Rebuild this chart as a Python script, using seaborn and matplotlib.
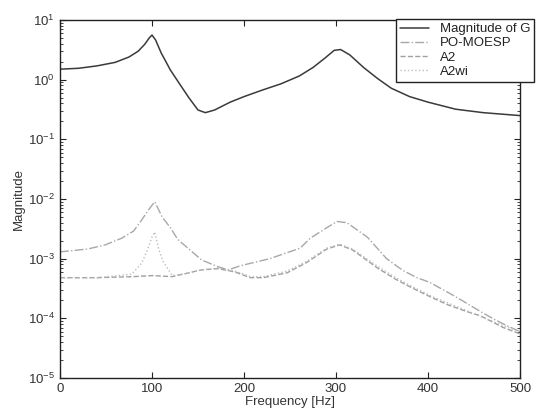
import numpy as np
import pandas as pd
import matplotlib
matplotlib.use("Agg")
import matplotlib.pyplot as plt
import seaborn as sns
from matplotlib.ticker import LogLocator, LogFormatterSciNotation, FixedLocator, NullFormatter

# ---- data ----
freq_g = [0, 20, 40, 60, 75, 85, 92, 97, 100, 104, 110, 120, 130, 140, 150, 158,
          168, 185, 200, 220, 240, 260, 275, 288, 298, 305, 315, 330, 345, 360,
          380, 400, 430, 460, 500]
mag_g = [1.50, 1.55, 1.70, 1.95, 2.4, 3.0, 3.9, 5.0, 5.6, 4.6, 2.8, 1.45, 0.85,
         0.50, 0.31, 0.28, 0.31, 0.42, 0.52, 0.67, 0.85, 1.15, 1.6, 2.3, 3.1,
         3.2, 2.6, 1.6, 1.05, 0.72, 0.52, 0.42, 0.32, 0.28, 0.25]

freq_po = [0, 30, 49, 67, 80, 89, 96, 103, 111, 120, 128, 139, 154, 172, 183,
           196, 228, 261, 272, 290, 301, 312, 334, 355, 373, 388, 402, 424, 438,
           457, 471, 486, 500]
mag_po = [1.3e-3, 1.45e-3, 1.7e-3, 2.2e-3, 2.9e-3, 4.5e-3, 6.5e-3, 9e-3, 5e-3,
          3.3e-3, 2.1e-3, 1.5e-3, 9.5e-4, 7.3e-4, 6.5e-4, 7.6e-4, 1.0e-3,
          1.5e-3, 2.2e-3, 3.3e-3, 4.2e-3, 4.0e-3, 2.3e-3, 1.0e-3, 6.3e-4,
          4.8e-4, 4.0e-4, 2.6e-4, 1.95e-4, 1.3e-4, 9.8e-5, 7.5e-5, 6e-5]

freq_a2 = [0, 40, 80, 100, 122, 136, 154, 172, 190, 207, 221, 247, 268, 290,
           304, 318, 345, 365, 380, 391, 405, 421, 442, 457, 482, 500]
mag_a2 = [4.8e-4, 4.8e-4, 5.0e-4, 5.2e-4, 5.0e-4, 5.6e-4, 6.5e-4, 6.8e-4,
          6.0e-4, 4.8e-4, 4.8e-4, 5.8e-4, 8.6e-4, 1.45e-3, 1.7e-3, 1.4e-3,
          7.0e-4, 4.5e-4, 3.4e-4, 2.8e-4, 2.2e-4, 1.7e-4, 1.3e-4, 1.1e-4,
          7.0e-5, 5.5e-5]

freq_a2wi = [0, 40, 78, 89, 95, 100, 103, 107, 112, 122, 136, 154, 172, 190,
             207, 221, 247, 268, 290, 304, 318, 345, 365, 380, 405, 442, 482, 500]
mag_a2wi = [4.8e-4, 4.8e-4, 5.5e-4, 8.5e-4, 1.4e-3, 2.3e-3, 2.8e-3, 1.5e-3,
            9e-4, 5.2e-4, 5.6e-4, 6.5e-4, 7.0e-4, 6.2e-4, 5.0e-4, 5.0e-4,
            6.2e-4, 9.0e-4, 1.5e-3, 1.75e-3, 1.45e-3, 7.5e-4, 4.8e-4, 3.6e-4,
            2.3e-4, 1.35e-4, 7.5e-5, 6e-5]

labels = ["Magnitude of G", "PO-MOESP", "A2", "A2wi"]
x_ticks = [0, 100, 200, 300, 400, 500]

# ---- style ----
sns.set_style("ticks")
plt.rcParams["font.family"] = ["Liberation Sans", "DejaVu Sans"]
plt.rcParams["mathtext.fontset"] = "custom"
plt.rcParams["mathtext.rm"] = "Liberation Sans"
plt.rcParams["mathtext.it"] = "Liberation Sans:italic"
plt.rcParams["mathtext.bf"] = "Liberation Sans:bold"

fig = plt.figure(figsize=(5.39, 4.18), dpi=100)
ax = fig.add_axes([60/539, 1-378/418, (520-60)/539, (378-20)/418])

sns.lineplot(x=freq_g, y=mag_g, ax=ax, color="#3a3a3a", lw=1.1,
             linestyle="-", label=labels[0], estimator=None, sort=False)
sns.lineplot(x=freq_po, y=mag_po, ax=ax, color="#a8a8a8", lw=1.0,
             linestyle="-.", label=labels[1], estimator=None, sort=False)
sns.lineplot(x=freq_a2, y=mag_a2, ax=ax, color="#a0a0a0", lw=1.0,
             linestyle="--", label=labels[2], estimator=None, sort=False)
sns.lineplot(x=freq_a2wi, y=mag_a2wi, ax=ax, color="#bdbdbd", lw=1.0,
             linestyle=":", label=labels[3], estimator=None, sort=False)

ax.set_yscale("log")
ax.set_xlim(0, 500)
ax.set_ylim(1e-5, 1e1)
ax.xaxis.set_major_locator(FixedLocator(x_ticks))
ax.yaxis.set_major_locator(LogLocator(base=10, numticks=10))
ax.yaxis.set_minor_locator(LogLocator(base=10, subs=np.arange(2, 10), numticks=20))
ax.yaxis.set_minor_formatter(NullFormatter())
ax.yaxis.set_major_formatter(LogFormatterSciNotation())

for s in ax.spines.values():
    s.set_visible(True)
    s.set_color("#222222")
    s.set_linewidth(1.0)

ax.tick_params(which="both", direction="in", top=True, right=True,
               colors="#222222", labelsize=9.5, labelcolor="#333333")
ax.tick_params(which="major", length=4)
ax.tick_params(which="minor", length=2)

ax.set_xlabel("Frequency [Hz]", fontsize=9.5, color="#333333", labelpad=1)
ax.set_ylabel("Magnitude", fontsize=9.5, color="#333333", labelpad=2)

leg = ax.legend(loc="upper left", bbox_to_anchor=(396/539, 1-19/418),
                bbox_transform=fig.transFigure, fontsize=9.5, frameon=True,
                fancybox=False, handlelength=2.2, borderpad=0.3,
                labelspacing=0.15, handletextpad=0.8, borderaxespad=0)
leg.get_frame().set_edgecolor("#222222")
leg.get_frame().set_linewidth(1.0)
leg.get_frame().set_alpha(1)
for t in leg.get_texts():
    t.set_color("#222222")

fig.savefig("out.png", dpi=100, facecolor="white")
